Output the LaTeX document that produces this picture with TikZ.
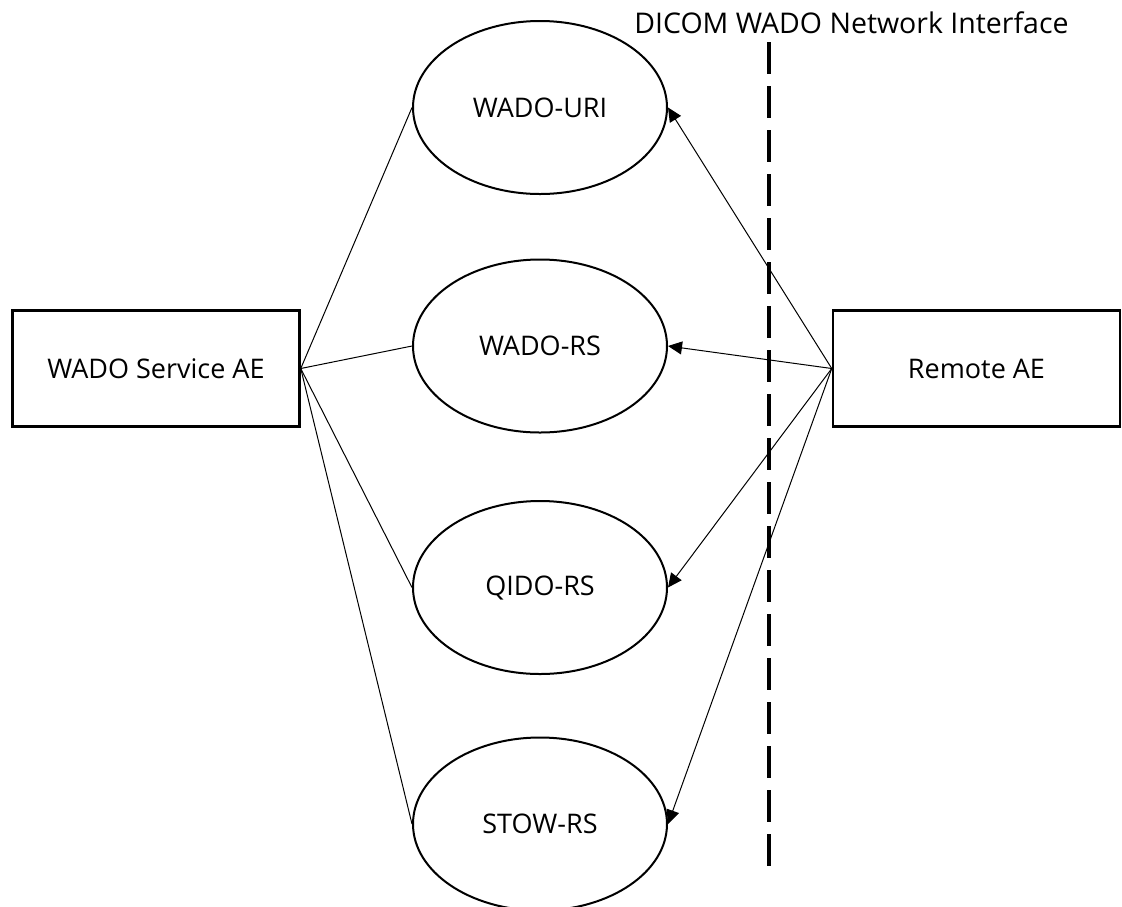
\documentclass[tikz,border=0pt]{standalone}
\usepackage{fontspec}
\setmainfont{Open Sans}
\usetikzlibrary{shapes.geometric,arrows.meta}
\begin{document}
\begin{tikzpicture}[x=1pt,y=-1pt,
  font=\fontsize{27}{31}\selectfont,
  aebox/.style={draw,line width=2.5pt,minimum width=287pt,minimum height=116pt,inner sep=0pt},
  svc/.style={draw,ellipse,line width=2pt,minimum width=254pt,minimum height=173pt,inner sep=0pt},
  link/.style={line width=1pt},
  arr/.style={line width=1pt,-{Triangle[length=14pt,width=13pt]}},
  iface/.style={line width=4pt,dash pattern=on 32pt off 12pt}]
\useasboundingbox (0,0) rectangle (1122,906);
\node[aebox] (wado) at (156,368.5) {WADO Service AE};
\node[aebox] (remote) at (976.5,368.5) {Remote AE};
\node[svc] (uri) at (540,107.5) {WADO-URI};
\node[svc] (rs) at (540,346) {WADO-RS};
\node[svc] (qido) at (540,587.5) {QIDO-RS};
\node[svc] (stow) at (540,824) {STOW-RS};
\node[font=\fontsize{28.5}{32}\selectfont] (title) at (851.5,23) {DICOM WADO Network Interface};
\coordinate (ifacetop) at (769,42);
\coordinate (ifacebot) at (769,866);
\draw[iface] (ifacetop) -- (ifacebot);
\foreach \s in {uri,rs,qido,stow}{
  \draw[link] (wado.east) -- (\s.west);
  \draw[arr] (remote.west) -- (\s.east);
}
\end{tikzpicture}
\end{document}
